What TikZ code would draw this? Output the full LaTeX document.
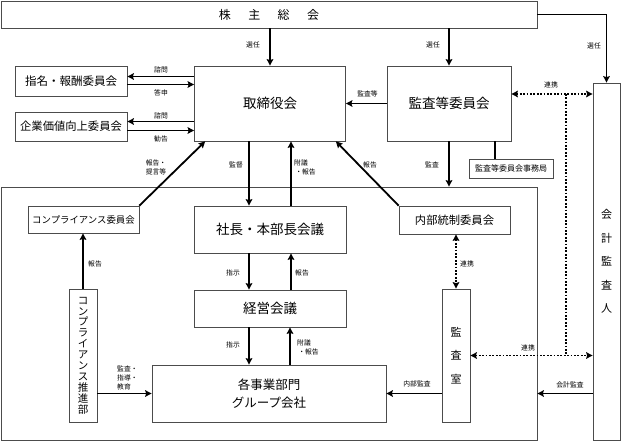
\documentclass[tikz,border=0pt]{standalone}
\usepackage{fontspec}
\setmainfont{Noto Sans CJK JP}
\usetikzlibrary{arrows.meta}
\newcommand{\jpsize}[1]{\fontsize{#1}{#1}\selectfont}
\tikzset{
	box/.style={draw=black!70,line width=.7pt,fill=white,inner sep=0pt,align=center},
	lbl/.style={inner sep=0pt,align=center,font=\fontsize{6.8}{9}\selectfont},
	arr/.style={->,line width=1.8pt},
	link/.style={<->,line width=1.8pt,dash pattern=on 1.8pt off 1.6pt},
}

\begin{document}
\begin{tikzpicture}[x=1pt,y=-1pt,>={Stealth[length=6.5pt,width=6.5pt,inset=1pt]}]
	\useasboundingbox (0,0) rectangle (621,441);
	
	% frame of the group
	\node[box,minimum width=536,minimum height=253] (group) at (269,313.5) {};
	
	\path
		(269,14.5)   node[box,minimum width=536,minimum height=27,font=\jpsize{12}] (share)
			{株\hspace{1.45em}主\hspace{1.45em}総\hspace{1.45em}会}
		(270,103.5)  node[box,minimum width=151,minimum height=75,font=\jpsize{13.5}] (board) {取締役会}
		(449,103.5)  node[box,minimum width=124,minimum height=75,font=\jpsize{13.5}] (audit) {監査等委員会}
		(71,81)      node[box,minimum width=112,minimum height=30,font=\jpsize{11.5}] (nomin) {指名・報酬委員会}
		(71,126.5)   node[box,minimum width=112,minimum height=29,font=\jpsize{11.3}] (value) {企業価値向上委員会}
		(511,168.5)  node[box,minimum width=84,minimum height=19,font=\jpsize{8}] (office) {監査等委員会事務局}
		(606.5,261.5) node[box,minimum width=27,minimum height=357,font=\fontsize{11}{23.5}\selectfont] (extaud)
			{会\\計\\監\\査\\人}
		(83.5,219.5) node[box,minimum width=111,minimum height=27,font=\jpsize{9.4}] (comp) {コンプライアンス委員会}
		(270,229.5)  node[box,minimum width=152,minimum height=47,font=\jpsize{13.5}] (pres) {社長・本部長会議}
		(454.5,220)  node[box,minimum width=111,minimum height=28,font=\jpsize{11.3}] (ictrl) {内部統制委員会}
		(270,308.5)  node[box,minimum width=152,minimum height=37,font=\jpsize{13.5}] (mgmt) {経営会議}
		(83,355.5)   node[box,minimum width=28,minimum height=133,font=\fontsize{10.5}{10.9}\selectfont] (promo)
			{コ\\ン\\プ\\ラ\\イ\\ア\\ン\\ス\\推\\進\\部}
		(269,393.5)  node[box,minimum width=234,minimum height=57,font=\fontsize{12.5}{18}\selectfont] (bu)
			{各事業部門\\グループ会社}
		(456,355.5)  node[box,minimum width=28,minimum height=133,font=\fontsize{11}{23.5}\selectfont] (iaudit)
			{監\\査\\室};
	
	% election
	\draw[arr] (share.south -| board.north) -- (board.north);
	\draw[arr] (share.south -| audit.north) -- (audit.north);
	\draw[arr] (share.east) -| (extaud.north);
	
	% committees of the board
	\draw[arr] ([yshift=4.5pt]nomin.east -| board.west) -- ([yshift=4.5pt]nomin.east);
	\draw[arr] ([yshift=-3.5pt]nomin.east) -- ([yshift=-3.5pt]nomin.east -| board.west);
	\draw[arr] ([yshift=5pt]value.east -| board.west) -- ([yshift=5pt]value.east);
	\draw[arr] ([yshift=-4pt]value.east) -- ([yshift=-4pt]value.east -| board.west);
	
	\draw[arr] (audit.west) -- (board.east);
	\draw[arr] (audit.south) -- (audit.south |- group.north);
	\draw[line width=1.8pt] ([xshift=-16pt]office.north) -- ([xshift=-16pt]office.north |- audit.south);
	
	\draw[arr] (comp.north east) -- ([xshift=11pt]board.south west);
	\draw[arr] (ictrl.north west) -- ([xshift=-10pt]board.south east);
	
	% chain of command
	\draw[arr] ([xshift=-21pt]board.south) -- ([xshift=-21pt]board.south |- pres.north);
	\draw[arr] ([xshift=21pt]pres.north) -- ([xshift=21pt]pres.north |- board.south);
	\draw[arr] ([xshift=-21pt]pres.south) -- ([xshift=-21pt]pres.south |- mgmt.north);
	\draw[arr] ([xshift=21pt]mgmt.north) -- ([xshift=21pt]mgmt.north |- pres.south);
	\draw[arr] ([xshift=-21pt]mgmt.south) -- ([xshift=-21pt]mgmt.south |- bu.north);
	\draw[arr] ([xshift=21pt]bu.north) -- ([xshift=21pt]bu.north |- mgmt.south);
	
	\draw[arr] (promo.north) -- (promo.north |- comp.south);
	\draw[arr] (promo.east |- bu.west) -- (bu.west);
	\draw[arr] (iaudit.west |- bu.east) -- (bu.east);
	\draw[arr] (extaud.west |- bu.east) -- (group.east |- bu.east);
	
	% cooperation
	\coordinate (tap) at (566,94);
	\coordinate (bap) at (566,355.5);
	\draw[link] ([yshift=9.5pt]audit.east) -- ([yshift=9.5pt]audit.east -| extaud.west);
	\draw[link,-] (tap) -- (bap);
	\draw[link] (ictrl.south -| iaudit.north) -- (iaudit.north);
	\draw[link] (iaudit.east) -- (iaudit.east -| extaud.west);
	
	\path
		(253,45)    node[lbl] (l1) {選任}
		(433,45)    node[lbl] (l2) {選任}
		(594,46)    node[lbl] (l3) {選任}
		(161,70)    node[lbl] (l4) {諮問}
		(161,92.5)  node[lbl] (l5) {答申}
		(161,115.5) node[lbl] (l6) {諮問}
		(161,139)   node[lbl] (l7) {勧告}
		(156,167)   node[lbl] (l8) {報告・\\提言等}
		(367.5,94)  node[lbl] (l9) {監査等}
		(551,85)    node[lbl] (l10) {連携}
		(236,165)   node[lbl] (l11) {監督}
		(294,167)   node[lbl,anchor=west,align=left] (l12) {附議\\\,・報告}
		(370,165)   node[lbl] (l13) {報告}
		(432,165)   node[lbl] (l14) {監査}
		(95,264)    node[lbl] (l15) {報告}
		(233,273)   node[lbl] (l16) {指示}
		(302,273)   node[lbl] (l17) {報告}
		(467,264)   node[lbl] (l18) {連携}
		(233,345)   node[lbl] (l19) {指示}
		(297,347.5) node[lbl,anchor=west,align=left] (l20) {附議\\\,・報告}
		(528,348)   node[lbl] (l21) {連携}
		(117,378)   node[lbl,anchor=west,align=left] (l22) {監査・\\指導・\\教育}
		(417,384)   node[lbl] (l23) {内部監査}
		(570,385)   node[lbl] (l24) {会計監査};
\end{tikzpicture}
\end{document}
